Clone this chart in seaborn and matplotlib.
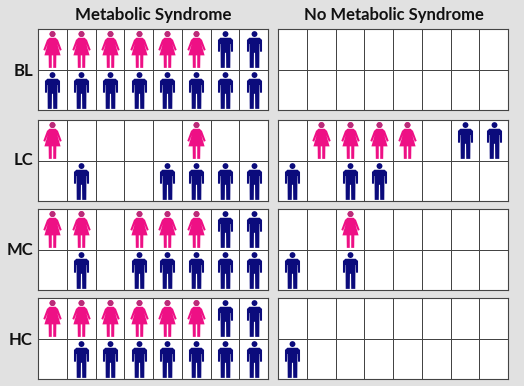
import matplotlib

matplotlib.use('Agg')
import matplotlib.pyplot as plt
import numpy as np
import seaborn as sns
from matplotlib.path import Path

# 0 empty, 1 woman, 2 man
rows = ['BL', 'LC', 'MC', 'HC']
titles = ['Metabolic Syndrome', 'No Metabolic Syndrome']

ms_bl = [[1, 1, 1, 1, 1, 1, 2, 2], [2, 2, 2, 2, 2, 2, 2, 2]]
ms_lc = [[1, 0, 0, 0, 0, 1, 0, 0], [0, 2, 0, 0, 2, 2, 2, 2]]
ms_mc = [[1, 1, 0, 1, 1, 1, 2, 2], [0, 2, 0, 2, 2, 2, 2, 2]]
ms_hc = [[1, 1, 1, 1, 1, 1, 2, 2], [0, 2, 2, 2, 2, 2, 2, 2]]

no_bl = [[0, 0, 0, 0, 0, 0, 0, 0], [0, 0, 0, 0, 0, 0, 0, 0]]
no_lc = [[0, 1, 1, 1, 1, 0, 2, 2], [2, 0, 2, 2, 0, 0, 0, 0]]
no_mc = [[0, 0, 1, 0, 0, 0, 0, 0], [2, 0, 2, 0, 0, 0, 0, 0]]
no_hc = [[0, 0, 0, 0, 0, 0, 0, 0], [2, 0, 0, 0, 0, 0, 0, 0]]

panels = [[ms_bl, ms_lc, ms_mc, ms_hc], [no_bl, no_lc, no_mc, no_hc]]

BG = '#e1e1e1'
PINK = '#ee1085'
PINK_HEAD = '#b92c78'
NAVY = '#0b0b7c'
W, H = 524, 386
left_px = [38, 278]
panel_w = 230
top_px = [29, 120, 209, 298]
panel_h = 81


def person(body):
    body = Path(body + [body[0]], closed=True)
    return Path.make_compound_path(Path.circle((0, 0.84), 0.16), body)


man = person([(-0.28, 0.64), (0.28, 0.64), (0.41, 0.52), (0.41, -0.12), (0.30, -0.12),
              (0.29, 0.30), (0.27, 0.30), (0.26, -1.0), (0.04, -1.0), (0.03, -0.18),
              (-0.03, -0.18), (-0.04, -1.0), (-0.26, -1.0), (-0.27, 0.30), (-0.29, 0.30),
              (-0.30, -0.12), (-0.41, -0.12), (-0.41, 0.52)])
woman = person([(-0.17, 0.64), (0.17, 0.64), (0.30, 0.52), (0.50, -0.02), (0.40, -0.07),
                (0.26, 0.30), (0.44, -0.32), (0.21, -0.32), (0.20, -1.0), (0.04, -1.0),
                (0.04, -0.32), (-0.04, -0.32), (-0.04, -1.0), (-0.20, -1.0), (-0.21, -0.32),
                (-0.44, -0.32), (-0.26, 0.30), (-0.40, -0.07), (-0.50, -0.02), (-0.30, 0.52)])
# circle alone would get rescaled as a marker, the zero-area tail keeps the same scale
woman_head = Path.make_compound_path(
    Path.circle((0, 0.84), 0.16),
    Path([(0, -1.0), (0.001, -1.0), (0, -1.0)], closed=True))

fig = plt.figure(figsize=(W / 100, H / 100), dpi=100, facecolor=BG)

for c, col_panels in enumerate(panels):
    for r, grid in enumerate(col_panels):
        ax = fig.add_axes([left_px[c] / W, 1 - (top_px[r] + panel_h) / H, panel_w / W, panel_h / H])
        grid = np.array(grid)
        sns.heatmap(np.zeros(grid.shape), cmap=['white'], cbar=False, linewidths=0.6,
                    linecolor='#444444', xticklabels=False, yticklabels=False, ax=ax)
        for code, marker, color in [(1, woman, PINK), (1, woman_head, PINK_HEAD), (2, man, NAVY)]:
            yy, xx = np.nonzero(grid == code)
            if len(xx):
                sns.scatterplot(x=xx + 0.5, y=yy + 0.5, marker=marker, s=700, color=color,
                                linewidth=0, ax=ax, clip_on=False)
        ax.set(xlabel='', ylabel='')
        for sp in ax.spines.values():
            sp.set_visible(True)
            sp.set_color('#444444')
            sp.set_linewidth(0.8)

for name, y in zip(rows, [71, 160, 250, 340]):
    fig.text(33 / W, 1 - y / H, name, family='Lato', weight='bold', fontsize=12,
             ha='right', va='center', color='#111111')
for name, x, size in zip(titles, [153, 394], [12.2, 12]):
    fig.text(x / W, 1 - 15 / H, name, family='Lato', weight='bold', fontsize=size,
             ha='center', va='center', color='#111111')

fig.savefig('out.png', dpi=100, facecolor=BG)
